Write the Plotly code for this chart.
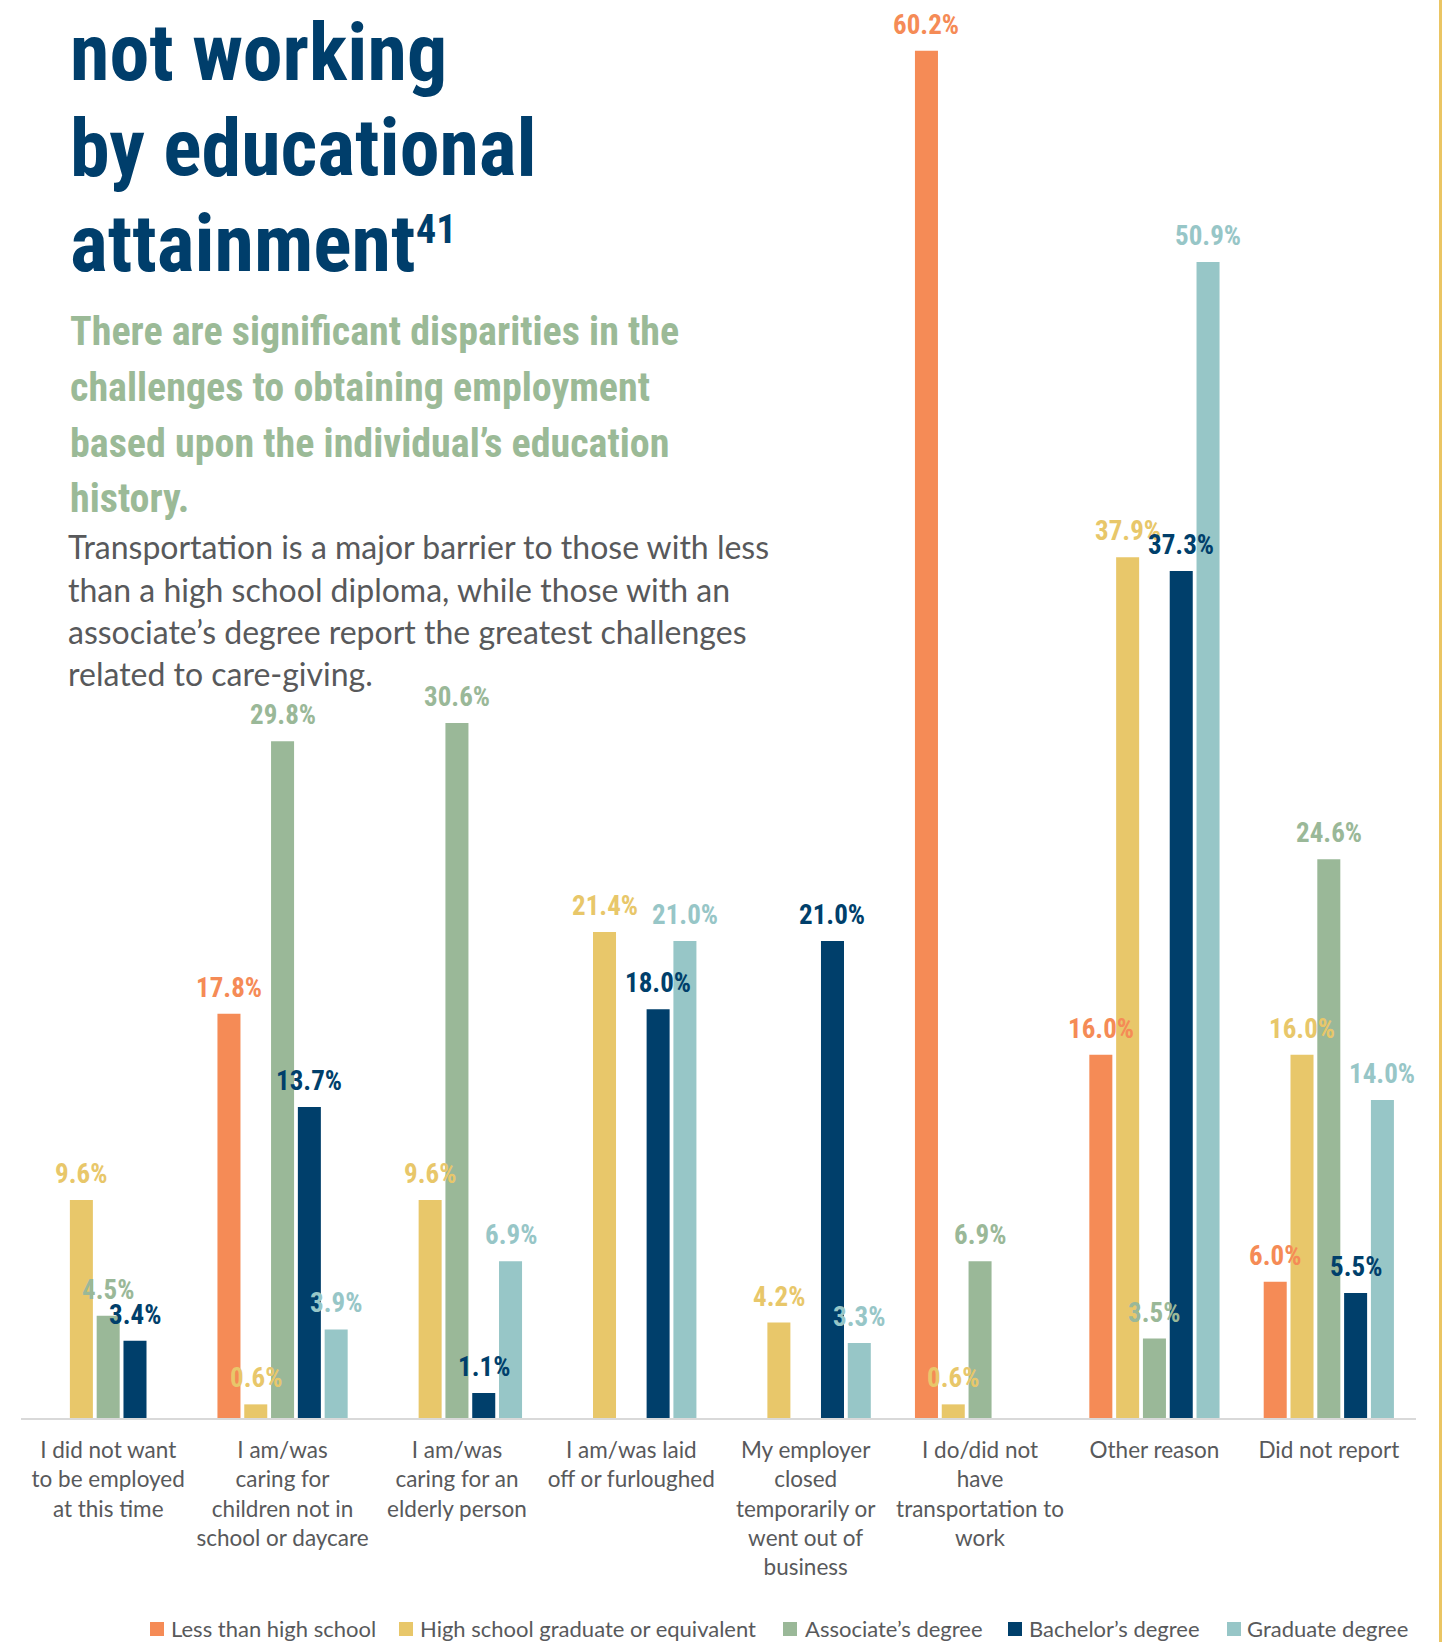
import plotly.graph_objects as go

# ---------------- data ----------------
categories = [
    "I did not want<br>to be employed<br>at this time",
    "I am/was<br>caring for<br>children not in<br>school or daycare",
    "I am/was<br>caring for an<br>elderly person",
    "I am/was laid<br>off or furloughed",
    "My employer<br>closed<br>temporarily or<br>went out of<br>business",
    "I do/did not<br>have<br>transportation to<br>work",
    "Other reason",
    "Did not report",
]
series_names = [
    "Less than high school",
    "High school graduate or equivalent",
    "Associate\u2019s degree",
    "Bachelor\u2019s degree",
    "Graduate degree",
]
less_than_hs = [None, 17.8, None, None, None, 60.2, 16.0, 6.0]
hs_grad = [9.6, 0.6, 9.6, 21.4, 4.2, 0.6, 37.9, 16.0]
associate = [4.5, 29.8, 30.6, None, None, 6.9, 3.5, 24.6]
bachelor = [3.4, 13.7, 1.1, 18.0, 21.0, None, 37.3, 5.5]
graduate = [None, 3.9, 6.9, 21.0, 3.3, None, 50.9, 14.0]
series_values = [less_than_hs, hs_grad, associate, bachelor, graduate]

title_lines = ["not working", "by educational", "attainment"]
title_footnote = "41"
subtitle_lines = [
    "There are significant disparities in the",
    "challenges to obtaining employment",
    "based upon the individual\u2019s education",
    "history.",
]
body_lines = [
    "Transportation is a major barrier to those with less",
    "than a high school diploma, while those with an",
    "associate\u2019s degree report the greatest challenges",
    "related to care-giving.",
]

# ---------------- style ----------------
colors = ["#F58B56", "#E8C76A", "#9AB898", "#003F6B", "#97C6C7"]
NAVY = "#003E6B"
GREEN = "#9BBA97"
GRAY = "#58595B"
COND = "Roboto Condensed, Liberation Sans Narrow, Roboto, sans-serif"
BODY = "Lato, Open Sans, sans-serif"

W, H = 1444, 1642
L, R = 21, 28
PLOT_BOTTOM = 1418
slot = 0.1537
bar_w = 0.132
y_top = 62.44

# legend layout (pixel positions of swatch left edges and text starts)
legend_swatch_x = [150, 399, 783, 1008, 1227]
legend_text_x = [169, 418, 803, 1027, 1245]
legend_center_y = 1629
legend_swatch = 14


def px_x(px):
    return (px - L) / (W - L - R)


def px_y(py):
    return (PLOT_BOTTOM - py) / PLOT_BOTTOM


fig = go.Figure()
annotations = []
for k, (name, vals) in enumerate(zip(series_names, series_values)):
    xs = [g + (k - 2) * slot for g in range(len(categories))]
    fig.add_trace(go.Bar(
        x=xs, y=vals, width=bar_w, name=name,
        marker=dict(color=colors[k], line=dict(width=0)),
        hoverinfo="skip", showlegend=False,
    ))
    for x, v in zip(xs, vals):
        if v is None:
            continue
        annotations.append(dict(
            x=x, y=v, xref="x", yref="y", text=f"{v:.1f}%",
            showarrow=False, xanchor="center", yanchor="bottom", yshift=8,
            font=dict(family=COND, size=27, color=colors[k], weight=700),
        ))


def text_line(text, baseline, size, family, color, weight=400, x=70, descent=0.244):
    return dict(
        x=px_x(x), y=px_y(baseline + descent * size + 1), xref="paper", yref="paper",
        text=text, showarrow=False, xanchor="left", yanchor="bottom",
        font=dict(family=family, size=size, color=color, weight=weight),
    )


for t, b in zip(title_lines, [81, 176, 272]):
    annotations.append(text_line(t, b, 80, COND, NAVY, 700, x=68))
annotations.append(text_line(title_footnote, 244, 40, COND, NAVY, 700, x=414))
for t, b in zip(subtitle_lines, [346, 402, 458, 513]):
    annotations.append(text_line(t, b, 40, COND, GREEN, 700, x=68))
for t, b in zip(body_lines, [560, 603, 645, 687]):
    annotations.append(text_line(t, b, 32, BODY, GRAY, 400, x=66, descent=0.213))

shapes = [dict(
    type="line", xref="paper", yref="paper",
    x0=px_x(1440.5), x1=px_x(1440.5), y0=px_y(0), y1=px_y(H),
    line=dict(color="#EAC563", width=3),
)]

# manual legend
for name, c, sx, tx in zip(series_names, colors, legend_swatch_x, legend_text_x):
    shapes.append(dict(
        type="rect", xref="paper", yref="paper",
        x0=px_x(sx), x1=px_x(sx + legend_swatch),
        y0=px_y(legend_center_y - legend_swatch / 2),
        y1=px_y(legend_center_y + legend_swatch / 2),
        fillcolor=c, line=dict(width=0),
    ))
    annotations.append(dict(
        x=px_x(tx), y=px_y(legend_center_y), xref="paper", yref="paper",
        text=name, showarrow=False, xanchor="left", yanchor="middle",
        font=dict(family=BODY, size=22, color=GRAY),
    ))

fig.update_layout(
    width=W, height=H,
    margin=dict(l=L, r=R, t=0, b=H - PLOT_BOTTOM, pad=0),
    paper_bgcolor="white", plot_bgcolor="white",
    barmode="overlay",
    showlegend=False,
    xaxis=dict(
        range=[-0.5, 7.5], tickmode="array", tickvals=list(range(len(categories))),
        ticktext=categories, showgrid=False, zeroline=False,
        showline=True, linecolor="#D9D9D9", linewidth=2, ticks="",
        ticklabelstandoff=11,
        tickfont=dict(family=BODY, size=22.5, color=GRAY),
        fixedrange=True,
    ),
    yaxis=dict(range=[0, y_top], visible=False, fixedrange=True),
    annotations=annotations,
    shapes=shapes,
)

fig.write_html("out.html", config={"displayModeBar": False})
